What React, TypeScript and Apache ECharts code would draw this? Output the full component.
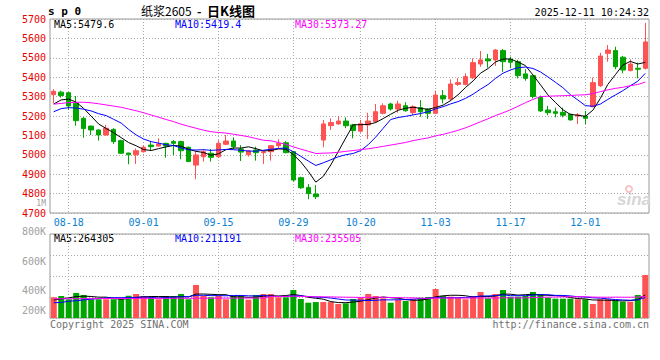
import React, { useEffect, useRef } from 'react';
import * as echarts from 'echarts';

// ---------- data ----------
const dates = [
  '08-14', '08-15', '08-18', '08-19', '08-20', '08-21', '08-22', '08-25', '08-26', '08-27', '08-28', '08-29',
  '09-01', '09-02', '09-03', '09-04', '09-05', '09-08', '09-09', '09-10', '09-11', '09-12',
  '09-15', '09-16', '09-17', '09-18', '09-19', '09-22', '09-23', '09-24', '09-25', '09-26',
  '09-29', '09-30', '10-09', '10-10', '10-13', '10-14', '10-15', '10-16', '10-17',
  '10-20', '10-21', '10-22', '10-23', '10-24', '10-27', '10-28', '10-29', '10-30', '10-31',
  '11-03', '11-04', '11-05', '11-06', '11-07', '11-10', '11-11', '11-12', '11-13', '11-14',
  '11-17', '11-18', '11-19', '11-20', '11-21', '11-24', '11-25', '11-26', '11-27', '11-28',
  '12-01', '12-02', '12-03', '12-04', '12-05', '12-08', '12-09', '12-10', '12-11',
];

const opens = [
  5310, 5323, 5320, 5265, 5188, 5148, 5128, 5102, 5131, 5073,
  5009, 5000, 5016, 5050, 5045, 5059, 5068, 5068, 5039, 4947,
  4990, 5008, 4990, 5054, 5071, 5030, 5000, 5025, 5011, 5016,
  5047, 5062, 5016, 4882, 4832, 4798, 5076, 5150, 5159, 5174,
  5154, 5122, 5154, 5171, 5214, 5262, 5236, 5253, 5217, 5243,
  5235, 5214, 5305, 5288, 5363, 5363, 5397, 5468, 5494, 5489,
  5537, 5492, 5480, 5417, 5408, 5296, 5231, 5222, 5219, 5209,
  5200, 5200, 5248, 5356, 5523, 5537, 5503, 5434, 5446, 5446,
];
const closes = [
  5327, 5305, 5252, 5176, 5135, 5128, 5102, 5137, 5068, 5008,
  5000, 5021, 5039, 5042, 5056, 5045, 5059, 5021, 4965, 4999,
  5016, 4987, 5059, 5071, 5042, 5014, 5020, 5011, 5016, 5047,
  5059, 5011, 4870, 4830, 4800, 4784, 5159, 5166, 5174, 5150,
  5125, 5160, 5174, 5222, 5253, 5236, 5262, 5227, 5248, 5222,
  5214, 5308, 5288, 5365, 5372, 5403, 5475, 5489, 5484, 5540,
  5480, 5477, 5408, 5394, 5300, 5226, 5217, 5214, 5204, 5180,
  5205, 5188, 5372, 5509, 5540, 5454, 5437, 5468, 5441, 5582,
];
const lows = [
  5265, 5295, 5231, 5150, 5088, 5102, 5073, 5099, 5056, 5004,
  4951, 4953, 5011, 5021, 5042, 4985, 4999, 4977, 4963, 4874,
  4965, 4965, 4985, 5050, 5028, 4968, 4990, 4970, 4953, 4970,
  5028, 5008, 4861, 4824, 4771, 4772, 5039, 5128, 5155, 5137,
  5085, 5114, 5081, 5165, 5209, 5228, 5217, 5222, 5205, 5196,
  5185, 5210, 5265, 5277, 5355, 5358, 5390, 5454, 5449, 5458,
  5428, 5446, 5394, 5382, 5291, 5221, 5204, 5193, 5193, 5176,
  5159, 5159, 5245, 5350, 5480, 5441, 5420, 5430, 5394, 5440,
];
const highs = [
  5338, 5330, 5324, 5303, 5195, 5150, 5130, 5154, 5137, 5078,
  5010, 5033, 5049, 5068, 5085, 5062, 5076, 5073, 5042, 5016,
  5028, 5030, 5075, 5102, 5090, 5050, 5025, 5042, 5020, 5050,
  5080, 5071, 5020, 4887, 4849, 4844, 5179, 5188, 5200, 5193,
  5160, 5180, 5217, 5262, 5265, 5268, 5279, 5271, 5255, 5282,
  5240, 5331, 5334, 5389, 5395, 5420, 5497, 5535, 5520, 5545,
  5545, 5506, 5490, 5441, 5412, 5305, 5252, 5243, 5243, 5212,
  5215, 5226, 5398, 5526, 5566, 5557, 5510, 5492, 5475, 5680,
];
const volumes = [
  246000, 262000, 223000, 298000, 274000, 223000, 223000, 223000, 223000, 223000,
  265000, 286000, 262000, 242000, 223000, 262000, 262000, 286000, 223000, 393000,
  262000, 246000, 265000, 223000, 262000, 262000, 218000, 274000, 286000, 286000,
  246000, 246000, 333000, 226000, 182000, 190000, 190000, 190000, 167000, 175000,
  226000, 242000, 286000, 262000, 234000, 182000, 214000, 202000, 223000, 242000,
  250000, 345000, 262000, 254000, 242000, 223000, 262000, 310000, 234000, 286000,
  333000, 254000, 254000, 262000, 310000, 286000, 242000, 230000, 230000, 230000,
  223000, 223000, 167000, 223000, 223000, 206000, 194000, 194000, 274000, 512000,
];

// moving-average values before a full window exists
const ma5Head = [5262, 5283, 5287, 5271];
const ma10Head = [5222, 5238, 5243, 5241, 5235, 5226, 5212, 5202, 5183];
const ma30Head = [
  5261, 5265, 5269, 5271, 5271, 5268, 5263, 5257, 5251, 5245,
  5236, 5227, 5217, 5205, 5194, 5182, 5171, 5158, 5147, 5137,
  5127, 5119, 5115, 5112, 5106, 5100, 5093, 5084, 5075,
];
const volMa5Head = [214000, 228000, 240000, 255000];
const volMa10Head = [182000, 185000, 200000, 205000, 215000, 225000, 232000, 238000, 242000];
const volMa30Head = [
  228000, 229000, 229000, 230000, 231000, 230000, 231000, 232000, 232000, 233000,
  232000, 233000, 234000, 234000, 233000, 234000, 235000, 235000, 234000, 236000,
  236000, 235000, 236000, 237000, 236000, 237000, 237000, 238000, 237000,
];

const labelDates = ['08-18', '09-01', '09-15', '09-29', '10-20', '11-03', '11-17', '12-01'];
const volTickLabels = ['1M', '800K', '600K', '400K', '200K'];

const headerMain = ['MA5:5479.6', 'MA10:5419.4', 'MA30:5373.27'];
const headerVol = ['MA5:264305', 'MA10:211191', 'MA30:235505'];

// ---------- helpers ----------
function movingAvg(src: number[], n: number, head: number[]) {
  return src.map((_, i) => {
    if (i < n - 1) return head[i];
    let s = 0;
    for (let k = i - n + 1; k <= i; k++) s += src[k];
    return Math.round((s / n) * 100) / 100;
  });
}

const MONO = '"DejaVu Sans Mono", "Liberation Mono", monospace';
const CJK = '"Noto Sans CJK SC", sans-serif';
const UP = '#ff5252';
const DOWN = '#00a600';
const GRIDC = '#a8a8a8';
const isLabel = (i: number) => labelDates.includes(dates[i]);

function txt(text: string, x: number, y: number, fill: string, font: string, align = 'left') {
  return {
    type: 'text',
    x,
    y,
    silent: true,
    style: {
      text,
      fill,
      font,
      textAlign: align,
      textVerticalAlign: 'middle',
      align,
      verticalAlign: 'middle',
    },
  };
}

export default function App() {
  const ref = useRef<HTMLDivElement>(null);
  useEffect(() => {
    if (!ref.current) return;
    const chart = echarts.init(ref.current, undefined, { renderer: 'svg' });

    const candleData = dates.map((_, i) => [opens[i], closes[i], lows[i], highs[i]]);
    const volData = volumes.map((v, i) => ({
      value: v,
      itemStyle: { color: closes[i] >= opens[i] ? UP : DOWN },
    }));
    const dotted = { color: GRIDC, type: [1, 2] as any, width: 1 };

    const vFont = `10px ${MONO}`;
    const volLabelY = [203, 231, 261, 290, 310];

    chart.setOption({
      animation: false,
      backgroundColor: '#fff',
      grid: [
        { left: 50, top: 19, width: 599, height: 194, show: true, borderColor: '#999', borderWidth: 1, backgroundColor: 'transparent' },
        { left: 50, top: 234, width: 599, height: 84, show: true, borderColor: '#999', borderWidth: 1, backgroundColor: 'transparent' },
      ],
      xAxis: [
        {
          type: 'category',
          gridIndex: 0,
          data: dates,
          boundaryGap: true,
          axisLine: { show: false },
          axisTick: { show: false },
          axisLabel: {
            interval: (i: number) => isLabel(i),
            color: '#0a7fd2',
            fontFamily: MONO,
            fontSize: 10,
            margin: 4,
          },
          splitLine: { show: true, interval: (i: number) => isLabel(i), alignWithLabel: true, lineStyle: dotted },
        },
        {
          type: 'category',
          gridIndex: 1,
          data: dates,
          boundaryGap: true,
          axisLine: { show: false },
          axisTick: { show: false },
          axisLabel: { show: false },
          splitLine: { show: true, interval: (i: number) => isLabel(i), alignWithLabel: true, lineStyle: dotted },
        },
      ],
      yAxis: [
        {
          type: 'value',
          gridIndex: 0,
          min: 4700,
          max: 5700,
          interval: 100,
          axisLine: { show: false },
          axisTick: { show: false },
          axisLabel: {
            color: '#e60000',
            fontFamily: MONO,
            fontSize: 10,
            margin: 4,
            formatter: (v: number) => String(v),
          },
          splitLine: { show: true, lineStyle: dotted },
        },
        {
          type: 'value',
          gridIndex: 1,
          min: 0,
          max: 1000000,
          interval: 250000,
          axisLine: { show: false },
          axisTick: { show: false },
          axisLabel: { show: false },
          splitLine: { show: true, lineStyle: dotted },
        },
      ],
      series: [
        {
          type: 'candlestick',
          xAxisIndex: 0,
          yAxisIndex: 0,
          data: candleData,
          barWidth: 5,
          itemStyle: { color: UP, color0: DOWN, borderColor: UP, borderColor0: DOWN, borderWidth: 1 },
        },
        { type: 'line', xAxisIndex: 0, yAxisIndex: 0, data: movingAvg(closes, 5, ma5Head), symbol: 'none', lineStyle: { color: '#000', width: 1 } },
        { type: 'line', xAxisIndex: 0, yAxisIndex: 0, data: movingAvg(closes, 10, ma10Head), symbol: 'none', lineStyle: { color: '#0000ff', width: 1 } },
        { type: 'line', xAxisIndex: 0, yAxisIndex: 0, data: movingAvg(closes, 30, ma30Head), symbol: 'none', lineStyle: { color: '#ff00ff', width: 1 } },
        { type: 'bar', xAxisIndex: 1, yAxisIndex: 1, data: volData, barWidth: 6 },
        { type: 'line', xAxisIndex: 1, yAxisIndex: 1, data: movingAvg(volumes, 5, volMa5Head), symbol: 'none', lineStyle: { color: '#000', width: 1 } },
        { type: 'line', xAxisIndex: 1, yAxisIndex: 1, data: movingAvg(volumes, 10, volMa10Head), symbol: 'none', lineStyle: { color: '#0000ff', width: 1 } },
        { type: 'line', xAxisIndex: 1, yAxisIndex: 1, data: movingAvg(volumes, 30, volMa30Head), symbol: 'none', lineStyle: { color: '#ff00ff', width: 1 } },
      ],
      graphic: [
        txt('s p 0', 48, 11, '#000', `bold 11px ${MONO}`),
        txt('纸浆2605', 141, 10, '#000', `12px ${CJK}`),
        txt('-', 197, 10, '#000', `bold 12px ${CJK}`),
        txt('日K线图', 207, 10, '#000', `bold 13px ${CJK}`),
        txt('2025-12-11 10:24:32', 649, 12, '#000', `10px ${MONO}`, 'right'),
        txt(headerMain[0], 54, 24, '#000', vFont),
        txt(headerMain[1], 175, 24, '#0000ff', vFont),
        txt(headerMain[2], 295, 24, '#ff00ff', vFont),
        txt(headerVol[0], 54, 238.5, '#000', vFont),
        txt(headerVol[1], 175, 238.5, '#0000ff', vFont),
        txt(headerVol[2], 295, 238.5, '#ff00ff', vFont),
        ...volTickLabels.map((t, i) => txt(t, 46, volLabelY[i], '#a0a0a0', i === 0 ? `8px ${MONO}` : vFont, 'right')),
        txt('Copyright 2025 SINA.COM', 50, 324, '#707070', vFont),
        txt('http://finance.sina.com.cn', 649, 324, '#707070', vFont, 'right'),
        txt('sina', 651, 199, '#d6d6d6', 'italic bold 17px "Liberation Sans", Arial, sans-serif', 'right'),
        { type: 'ring', silent: true, shape: { cx: 629, cy: 189, r: 4, r0: 2 }, style: { fill: '#f6c4c4' } },
      ],
    });
    return () => chart.dispose();
  }, []);

  return <div ref={ref} style={{ position: 'absolute', left: 0, top: 0, width: 660, height: 360 }} />;
}
